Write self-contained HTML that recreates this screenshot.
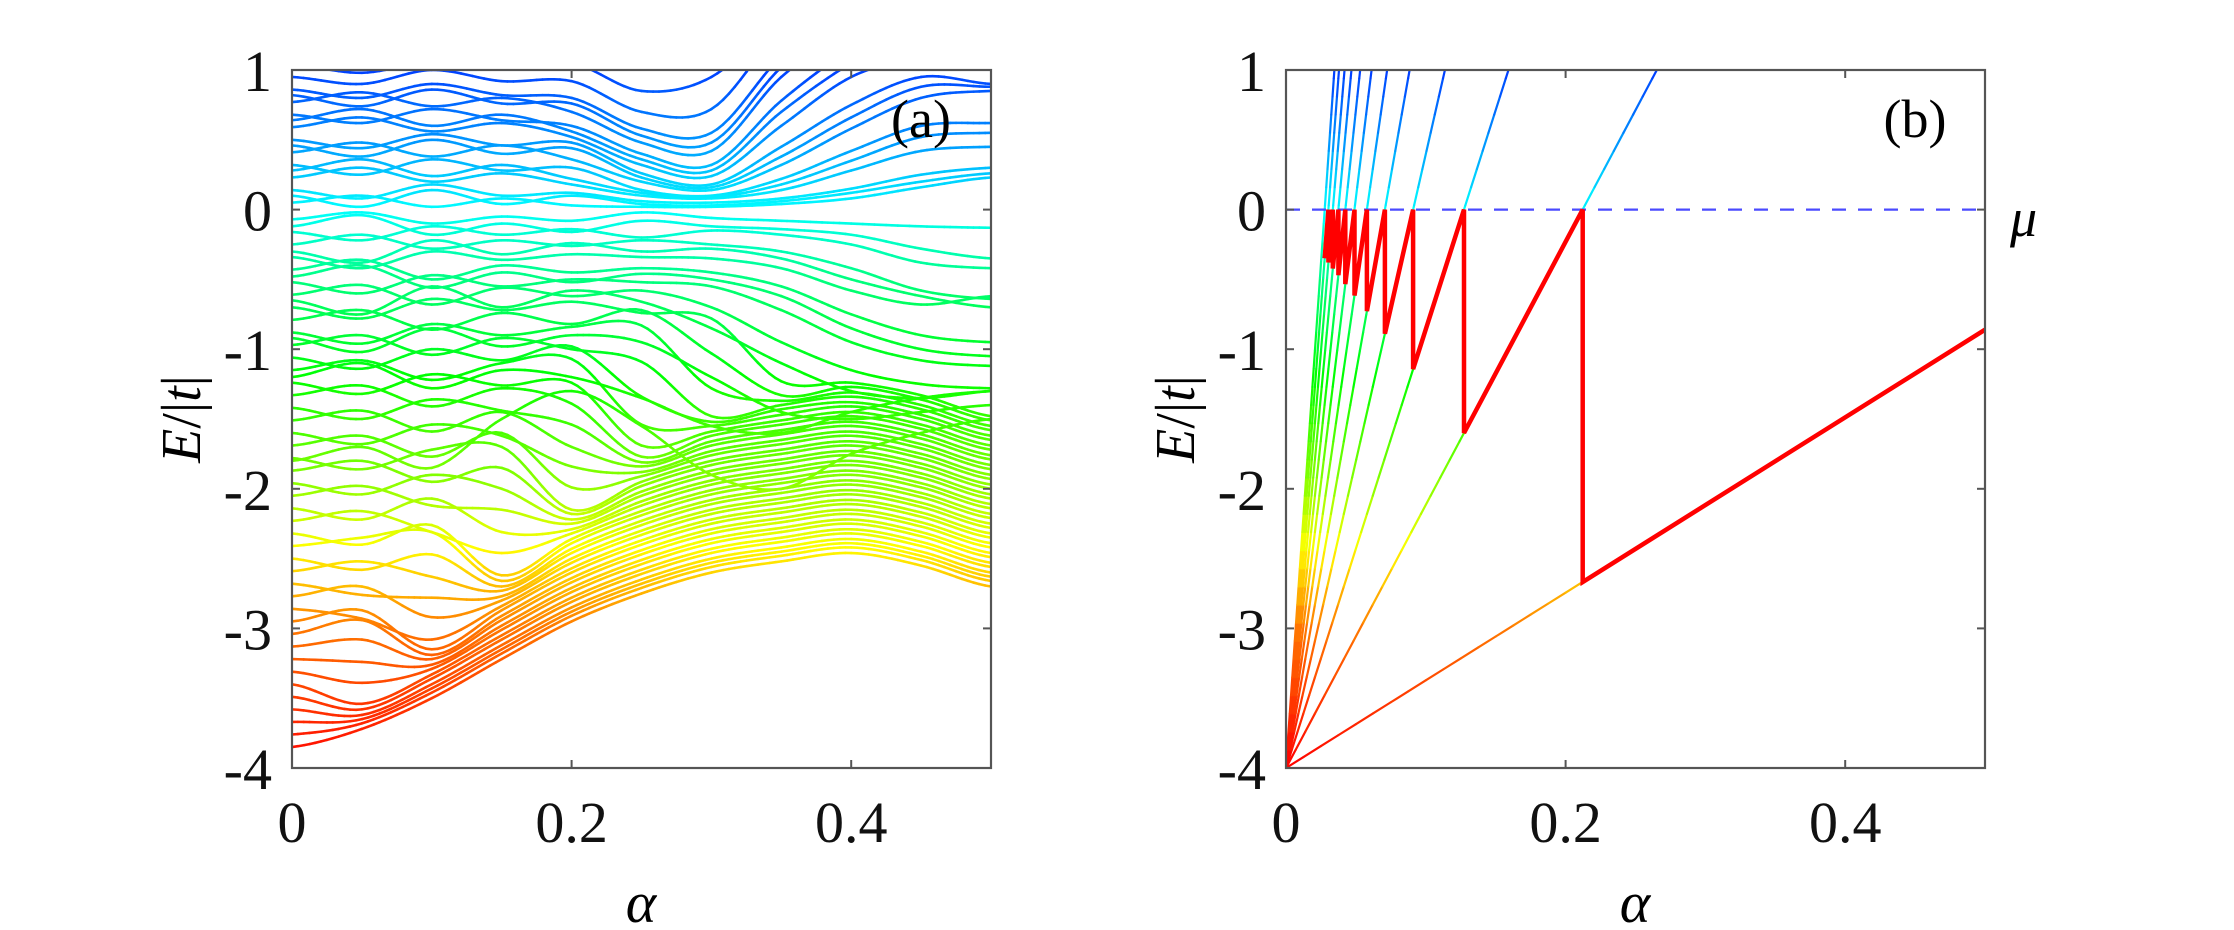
<!DOCTYPE html>
<html><head><meta charset="utf-8"><style>
html,body{margin:0;padding:0;background:#fff;}
svg{display:block;}
text{font-family:"Liberation Serif",serif;}
</style></head><body>
<svg id="fig" width="2234" height="930" viewBox="0 0 2234 930" xmlns="http://www.w3.org/2000/svg">
<defs>
<clipPath id="clipA"><rect x="292" y="70" width="699" height="698"/></clipPath>
<clipPath id="clipB"><rect x="1286" y="70" width="699" height="698"/></clipPath>
</defs>
<g id="plotA" clip-path="url(#clipA)"></g>
<g id="plotB" clip-path="url(#clipB)"></g>
<g id="axes"></g>
<text x="921" y="137" font-size="54" font-family="Liberation Serif, serif" text-anchor="middle">(a)</text>
<text x="1915" y="137" font-size="54" font-family="Liberation Serif, serif" text-anchor="middle">(b)</text>
<text x="2010" y="236" font-size="54" font-family="Liberation Serif, serif" font-style="italic">μ</text>
<text x="641" y="922" font-size="58" font-family="Liberation Serif, serif" font-style="italic" text-anchor="middle">α</text>
<text x="1635" y="922" font-size="58" font-family="Liberation Serif, serif" font-style="italic" text-anchor="middle">α</text>
<text transform="translate(200,419) rotate(-90)" font-size="56" font-family="Liberation Serif, serif" text-anchor="middle"><tspan font-style="italic">E</tspan>/|<tspan font-style="italic">t</tspan>|</text>
<text transform="translate(1194,419) rotate(-90)" font-size="56" font-family="Liberation Serif, serif" text-anchor="middle"><tspan font-style="italic">E</tspan>/|<tspan font-style="italic">t</tspan>|</text>
</svg>
<script>
const alphaKnots = [0,0.05,0.1,0.15,0.2,0.25,0.3,0.35,0.4,0.45,0.5];
const bandsA = [
[-3.85,-3.72,-3.5,-3.22,-2.95,-2.75,-2.6,-2.52,-2.46,-2.55,-2.7],
[-3.76,-3.68,-3.46,-3.18,-2.91,-2.71,-2.56,-2.48,-2.42,-2.51,-2.66],
[-3.67,-3.65,-3.43,-3.15,-2.88,-2.68,-2.53,-2.45,-2.39,-2.48,-2.63],
[-3.58,-3.62,-3.40,-3.12,-2.85,-2.65,-2.50,-2.42,-2.36,-2.45,-2.60],
[-3.49,-3.58,-3.36,-3.08,-2.81,-2.61,-2.46,-2.38,-2.32,-2.41,-2.56],
[-3.40,-3.54,-3.33,-3.05,-2.78,-2.58,-2.43,-2.35,-2.29,-2.38,-2.53],
[-3.31,-3.39,-3.29,-3.01,-2.74,-2.54,-2.39,-2.31,-2.25,-2.34,-2.49],
[-3.22,-3.24,-3.26,-2.98,-2.71,-2.51,-2.36,-2.28,-2.22,-2.31,-2.46],
[-3.13,-3.08,-3.22,-2.94,-2.67,-2.47,-2.32,-2.24,-2.18,-2.27,-2.42],
[-3.04,-2.94,-3.19,-2.91,-2.64,-2.44,-2.29,-2.21,-2.15,-2.24,-2.39],
[-2.95,-2.87,-3.15,-2.87,-2.60,-2.40,-2.25,-2.17,-2.11,-2.20,-2.35],
[-2.86,-2.93,-3.08,-2.84,-2.57,-2.37,-2.22,-2.14,-2.08,-2.17,-2.32],
[-2.77,-2.70,-2.92,-2.80,-2.53,-2.33,-2.18,-2.10,-2.04,-2.13,-2.28],
[-2.68,-2.76,-2.78,-2.77,-2.50,-2.30,-2.15,-2.07,-2.01,-2.10,-2.25],
[-2.59,-2.52,-2.63,-2.73,-2.46,-2.26,-2.11,-2.03,-1.97,-2.06,-2.21],
[-2.50,-2.58,-2.47,-2.70,-2.43,-2.23,-2.08,-2.00,-1.94,-2.03,-2.18],
[-2.41,-2.35,-2.31,-2.66,-2.39,-2.19,-2.04,-1.96,-1.90,-1.99,-2.14],
[-2.32,-2.40,-2.26,-2.62,-2.36,-2.16,-2.01,-1.93,-1.87,-1.96,-2.11],
[-2.23,-2.16,-2.31,-2.46,-2.32,-2.12,-1.97,-1.89,-1.83,-1.92,-2.07],
[-2.14,-2.22,-2.07,-2.31,-2.29,-2.09,-1.94,-1.86,-1.80,-1.89,-2.04],
[-2.05,-1.98,-2.12,-2.15,-2.25,-2.05,-1.90,-1.82,-1.76,-1.85,-2.00],
[-1.96,-2.04,-1.90,-2.00,-2.22,-2.02,-1.87,-1.79,-1.73,-1.82,-1.97],
[-1.87,-1.80,-1.95,-1.85,-2.18,-1.98,-1.83,-1.75,-1.69,-1.78,-1.93],
[-1.78,-1.86,-1.72,-1.70,-2.15,-1.95,-1.80,-1.72,-1.66,-1.75,-1.90],
[-1.69,-1.62,-1.77,-1.60,-1.99,-1.91,-1.76,-1.68,-1.62,-1.71,-1.86],
[-1.60,-1.68,-1.54,-1.62,-1.84,-1.88,-1.73,-1.65,-1.59,-1.68,-1.83],
[-1.51,-1.44,-1.59,-1.45,-1.70,-1.84,-1.69,-1.61,-1.55,-1.64,-1.79],
[-1.42,-1.50,-1.36,-1.44,-1.54,-1.81,-1.66,-1.58,-1.52,-1.61,-1.76],
[-1.33,-1.26,-1.41,-1.28,-1.39,-1.77,-1.62,-1.54,-1.48,-1.57,-1.72],
[-1.24,-1.32,-1.18,-1.26,-1.24,-1.69,-1.59,-1.51,-1.45,-1.54,-1.69],
[-1.15,-1.08,-1.22,-1.10,-1.07,-1.54,-1.55,-1.47,-1.41,-1.50,-1.65],
[-1.06,-1.14,-1.00,-1.08,-0.98,-1.34,-1.52,-1.43,-1.38,-1.47,-1.62],
[-0.97,-0.90,-1.04,-0.92,-1.00,-1.09,-1.48,-1.40,-1.34,-1.43,-1.58],
[-0.88,-0.96,-0.82,-0.90,-0.84,-0.83,-1.28,-1.37,-1.31,-1.40,-1.55],
[-0.79,-0.72,-0.86,-0.74,-0.82,-0.72,-1.03,-1.33,-1.27,-1.36,-1.51],
[-0.70,-0.78,-0.64,-0.72,-0.66,-0.74,-0.78,-1.23,-1.24,-1.33,-1.48],
[-0.61,-0.54,-0.68,-0.56,-0.62,-0.58,-0.70,-0.95,-1.15,-1.25,-1.28],
[-0.52,-0.60,-0.47,-0.55,-0.50,-0.52,-0.55,-0.72,-0.95,-1.08,-1.12],
[-0.43,-0.36,-0.50,-0.40,-0.45,-0.42,-0.45,-0.55,-0.75,-0.90,-0.95],
[-0.34,-0.42,-0.30,-0.36,-0.32,-0.34,-0.35,-0.42,-0.58,-0.68,-0.62],
[-0.25,-0.18,-0.28,-0.22,-0.26,-0.22,-0.25,-0.30,-0.42,-0.58,-0.64],
[-0.16,-0.22,-0.12,-0.18,-0.14,-0.20,-0.15,-0.18,-0.25,-0.38,-0.42],
[-0.07,-0.02,-0.10,-0.05,-0.08,-0.02,-0.06,-0.08,-0.10,-0.12,-0.13],
[0.05,0.10,0.02,0.08,0.03,0.02,0.02,0.04,0.08,0.16,0.23],
[0.14,0.08,0.18,0.10,0.12,0.06,0.05,0.08,0.15,0.25,0.30],
[0.23,0.30,0.20,0.26,0.18,0.10,0.08,0.14,0.28,0.42,0.45],
[0.32,0.25,0.36,0.28,0.30,0.14,0.10,0.22,0.42,0.60,0.62],
[0.41,0.48,0.38,0.46,0.36,0.20,0.14,0.32,0.58,0.80,0.85],
[0.50,0.44,0.54,0.46,0.48,0.26,0.18,0.45,0.75,0.95,0.90],
[0.59,0.66,0.56,0.62,0.52,0.32,0.24,0.60,0.95,1.10,1.20],
[0.68,0.62,0.72,0.64,0.60,0.40,0.32,0.78,1.15,1.40,1.60],
[0.77,0.84,0.74,0.80,0.70,0.48,0.42,0.95,1.30,1.60,1.80],
[0.86,0.80,0.90,0.82,0.80,0.58,0.55,1.10,1.50,1.80,2.00],
[0.95,0.90,1.00,0.92,0.92,0.70,0.72,1.30,1.70,2.00,2.20],
[1.04,0.98,1.06,1.02,1.05,0.85,0.95,1.40,1.80,2.10,2.30],
[-0.65,-0.75,-0.55,-0.70,-0.58,-0.66,-0.85,-1.10,-1.30,-1.35,-1.30],
[-0.48,-0.40,-0.56,-0.45,-0.52,-0.46,-0.50,-0.62,-0.85,-1.00,-1.05],
[-0.30,-0.38,-0.22,-0.32,-0.24,-0.30,-0.28,-0.35,-0.50,-0.62,-0.70],
[-0.12,-0.04,-0.18,-0.10,-0.16,-0.08,-0.12,-0.14,-0.18,-0.28,-0.35],
[0.10,0.02,0.14,0.04,0.10,0.04,0.03,0.06,0.12,0.20,0.26],
[0.28,0.36,0.24,0.32,0.22,0.12,0.09,0.18,0.35,0.52,0.55],
[0.46,0.38,0.50,0.40,0.44,0.23,0.16,0.38,0.66,0.88,0.88],
[0.64,0.72,0.60,0.68,0.56,0.36,0.28,0.70,1.05,1.30,1.50],
[0.82,0.74,0.86,0.76,0.76,0.53,0.48,1.02,1.40,1.70,1.90],
[-0.92,-1.02,-0.85,-0.98,-0.90,-0.95,-1.20,-1.45,-1.50,-1.45,-1.40],
[-1.20,-1.10,-1.28,-1.15,-1.20,-1.35,-1.55,-1.60,-1.45,-1.35,-1.30],
[-1.80,-1.70,-1.85,-1.50,-1.30,-1.55,-1.90,-2.00,-1.75,-1.60,-1.50]
];
const levelSlopes = [6.28,18.85,31.42,43.98,56.55,69.12,81.68,94.25,106.8,119.4,131.9,144.5];
const levelOrigin = -4;
const chemPotential = 0;
const yTicks = [-4,-3,-2,-1,0,1];
const yTickLabels = ["-4","-3","-2","-1","0","1"];
const xTicks = [0,0.2,0.4];
const xTickLabels = ["0","0.2","0.4"];

const PT=70, PB=768, PW=699;
const panels=[{x0:292,name:'a'},{x0:1286,name:'b'}];
function sx(p,a){return p.x0 + a/0.5*PW;}
function sy(E){return PB - (E+4)/5*(PB-PT);}
const NS='http://www.w3.org/2000/svg';
function mk(tag,attrs,parent){const e=document.createElementNS(NS,tag);for(const k in attrs)e.setAttribute(k,attrs[k]);parent.appendChild(e);return e;}
const hueStops=[[-4,0],[-3,28],[-2.5,55],[-2,85],[-1.2,120],[-0.5,150],[0,180],[0.5,205],[1,225]];
function colorOf(E){
  let h;
  if(E<=hueStops[0][0])h=hueStops[0][1];
  else if(E>=hueStops[hueStops.length-1][0])h=hueStops[hueStops.length-1][1];
  else for(let i=0;i<hueStops.length-1;i++){const a=hueStops[i],b=hueStops[i+1];if(E>=a[0]&&E<=b[0]){h=a[1]+(b[1]-a[1])*(E-a[0])/(b[0]-a[0]);break;}}
  return 'hsl('+h.toFixed(1)+',100%,50%)';
}
function seg(g,x1,y1,x2,y2,E,w){
  const l=mk('line',{x1:x1,y1:y1,x2:x2,y2:y2,stroke:colorOf(E),'stroke-width':w,'stroke-linecap':'round'},g);
  
  
}

const gA=document.getElementById('plotA');
const pA=panels[0];
bandsA.forEach((row,bi)=>{
  const g=mk('g',{},gA);
  
  
  const n=row.length; const sub=12; let prev=null;
  for(let i=0;i<n-1;i++){
    const p0=row[Math.max(i-1,0)],p1=row[i],p2=row[i+1],p3=row[Math.min(i+2,n-1)];
    for(let s=0;s<=sub;s++){
      if(i>0&&s===0)continue;
      const t=s/sub;
      const E=0.5*((2*p1)+(-p0+p2)*t+(2*p0-5*p1+4*p2-p3)*t*t+(-p0+3*p1-3*p2+p3)*t*t*t);
      const a=alphaKnots[i]+(alphaKnots[i+1]-alphaKnots[i])*t;
      const pt=[sx(pA,a),sy(E),E];
      if(prev) seg(g,prev[0],prev[1],pt[0],pt[1],(prev[2]+pt[2])/2,2.6);
      prev=pt;
    }
  }
});

const gB=document.getElementById('plotB');
const pB=panels[1];
levelSlopes.forEach((s,n)=>{
  const g=mk('g',{},gB);
  
  
  const aEnd=Math.min(0.5,(1.2-levelOrigin)/s);
  const N=40;
  for(let k=0;k<N;k++){
    const a1=aEnd*k/N,a2=aEnd*(k+1)/N;
    const E1=levelOrigin+s*a1,E2=levelOrigin+s*a2;
    seg(g,sx(pB,a1),sy(E1),sx(pB,a2),sy(E2),(E1+E2)/2,2.2);
  }
});
const mu=mk('line',{x1:sx(pB,0),x2:sx(pB,0.5),y1:sy(chemPotential),y2:sy(chemPotential),stroke:'#4a4aff','stroke-width':2.2,'stroke-dasharray':'14 12'},gB);


let pts=[];
for(let n=levelSlopes.length-2;n>=0;n--){
  const aStart=(chemPotential-levelOrigin)/levelSlopes[n+1];
  const aStop=Math.min(0.5,(chemPotential-levelOrigin)/levelSlopes[n]);
  pts.push([aStart,levelOrigin+levelSlopes[n]*aStart]);
  pts.push([aStop,levelOrigin+levelSlopes[n]*aStop]);
}
const red=mk('polyline',{points:pts.map(p=>sx(pB,p[0]).toFixed(1)+','+sy(p[1]).toFixed(1)).join(' '),fill:'none',stroke:'#ff0000','stroke-width':4.5,'stroke-linejoin':'miter'},gB);



const gx=document.getElementById('axes');
panels.forEach(p=>{
  const fr=mk('rect',{x:p.x0,y:PT,width:PW,height:PB-PT,fill:'none',stroke:'#555','stroke-width':2.2},gx);
  
  
  yTicks.forEach((v,i)=>{
    const y=sy(v);
    const t1=mk('line',{x1:p.x0,x2:p.x0+8,y1:y,y2:y,stroke:'#555','stroke-width':2},gx);
    
    
    const t2=mk('line',{x1:p.x0+PW,x2:p.x0+PW-8,y1:y,y2:y,stroke:'#555','stroke-width':2},gx);
    
    
    const lb=mk('text',{x:p.x0-20,y:y+21,'font-size':58,'font-family':'Liberation Serif, serif','text-anchor':'end',fill:'#111'},gx);
    lb.textContent=yTickLabels[i];
    
    
  });
  xTicks.forEach((v,i)=>{
    const x=sx(p,v);
    const t1=mk('line',{x1:x,x2:x,y1:PB,y2:PB-8,stroke:'#555','stroke-width':2},gx);
    
    
    const t2=mk('line',{x1:x,x2:x,y1:PT,y2:PT+8,stroke:'#555','stroke-width':2},gx);
    
    
    const lb=mk('text',{x:x,y:842,'font-size':58,'font-family':'Liberation Serif, serif','text-anchor':'middle',fill:'#111'},gx);
    lb.textContent=xTickLabels[i];
    
    
  });
});
</script>
</body></html>
